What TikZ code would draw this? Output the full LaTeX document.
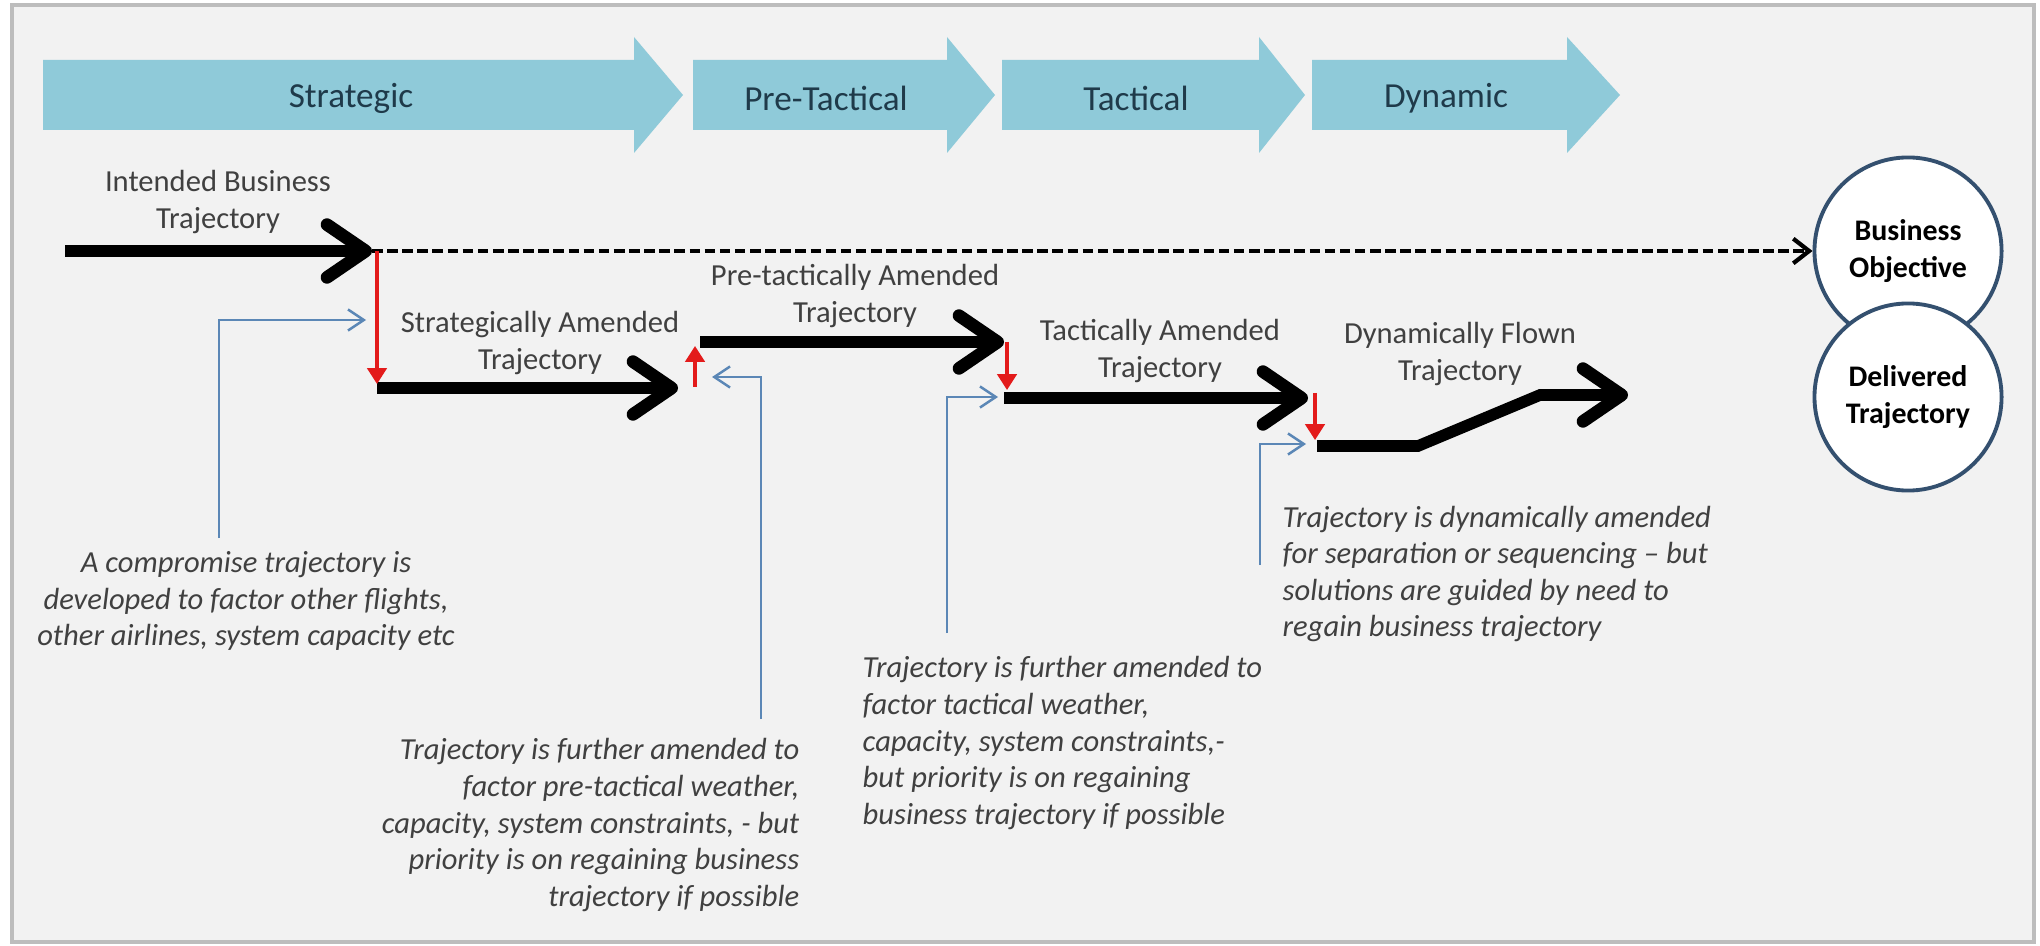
\documentclass[tikz,border=0pt]{standalone}
\usepackage{fontspec}
\setmainfont{Carlito}
\usetikzlibrary{arrows.meta}
\definecolor{phaseblue}{HTML}{8FCAD9}
\definecolor{phasetext}{HTML}{1F3A4A}
\definecolor{labelgray}{HTML}{404040}
\definecolor{amendred}{HTML}{E31B1B}
\definecolor{calloutblue}{HTML}{5B87B6}
\definecolor{goalblue}{HTML}{34506F}
\definecolor{panelgray}{HTML}{F2F2F2}
\definecolor{framegray}{HTML}{BDBDBD}

\begin{document}
\begin{tikzpicture}[x=0.01cm,y=-0.01cm]
        \tikzstyle{phase}=[fill=phaseblue,draw=none]
        \tikzstyle{phase label}=[text=phasetext,inner sep=0,font=\fontsize{10}{12}\selectfont]
        \tikzstyle{traj label}=[text=labelgray,align=center,inner sep=0,font=\fontsize{8.7}{10.4}\selectfont]
        \tikzstyle{note}=[text=labelgray,inner sep=0,font=\fontsize{8.7}{10.4}\selectfont\itshape]
        \tikzstyle{traj}=[line width=3.3pt,-{Straight Barb[length=11pt,width=15pt,line width=3.6pt,round]}]
        \tikzstyle{planned}=[line width=1.4pt,dash pattern=on 3pt off 1.3pt,-{Straight Barb[length=4.5pt,width=7pt,line width=1.2pt]}]
        \tikzstyle{amend}=[amendred,line width=0.9pt,-{Triangle[length=4.5pt,width=5.5pt]}]
        \tikzstyle{callout}=[calloutblue,line width=0.7pt,-{Straight Barb[length=4.5pt,width=6pt]}]
        \tikzstyle{goal}=[circle,draw=goalblue,line width=1.1pt,fill=white,minimum size=1.87cm,inner sep=0,align=center,font=\fontsize{8.5}{10.5}\selectfont\bfseries]

        \useasboundingbox (0,0) rectangle (2040,946);
        \fill[white] (0,0) rectangle (2040,946);
        \draw[framegray,line width=1.2pt,fill=panelgray] (12,5) rectangle (2034,942);

        % phases
        \fill[phase] (43,60) -- (634,60) -- (634,37) -- (683,95) -- (634,153) -- (634,130) -- (43,130) -- cycle;
        \fill[phase] (693,60) -- (947,60) -- (947,37) -- (995,95) -- (947,153) -- (947,130) -- (693,130) -- cycle;
        \fill[phase] (1002,60) -- (1259,60) -- (1259,37) -- (1305,95) -- (1259,153) -- (1259,130) -- (1002,130) -- cycle;
        \fill[phase] (1312,60) -- (1567,60) -- (1567,37) -- (1620,95) -- (1567,153) -- (1567,130) -- (1312,130) -- cycle;
        \node(strategic)[phase label] at (351,98) {Strategic};
        \node(pretactical)[phase label] at (826,98) {Pre-Tactical};
        \node(tactical)[phase label] at (1136,98) {Tactical};
        \node(dynamic)[phase label] at (1446,98) {Dynamic};

        % objective and outcome
        \node(bizobj)[goal] at (1908,251) {Business\\Objective};
        \node(delivered)[goal] at (1908,397) {Delivered\\Trajectory};

        % trajectory points
        \coordinate(ibt0) at (65,251);
        \coordinate(ibt1) at (372,251);
        \coordinate(sat0) at (377,388);
        \coordinate(sat1) at (678,388);
        \coordinate(pat0) at (700,342);
        \coordinate(pat1) at (1004,342);
        \coordinate(tat0) at (1004,398);
        \coordinate(tat1) at (1308,398);
        \coordinate(dft0) at (1317,446);
        \coordinate(dft1) at (1418,446);
        \coordinate(dft2) at (1540,395);
        \coordinate(dft3) at (1628,395);

        \draw[traj] (ibt0) -- (ibt1);
        \draw[planned] (ibt1) -- (bizobj);
        \draw[traj] (sat0) -- (sat1);
        \draw[traj] (pat0) -- (pat1);
        \draw[traj] (tat0) -- (tat1);
        \draw[traj] (dft0) -- (dft1) -- (dft2) -- (dft3);

        % amendments
        \coordinate(amd1a) at (377,251);
        \coordinate(amd1b) at (377,384);
        \coordinate(amd2a) at (695,387);
        \coordinate(amd2b) at (695,346);
        \coordinate(amd3a) at (1007,342);
        \coordinate(amd3b) at (1007,390);
        \coordinate(amd4a) at (1315,393);
        \coordinate(amd4b) at (1315,440);
        \draw[amend] (amd1a) -- (amd1b);
        \draw[amend] (amd2a) -- (amd2b);
        \draw[amend] (amd3a) -- (amd3b);
        \draw[amend] (amd4a) -- (amd4b);

        % labels
        \node(ibtlabel)[traj label] at (218,202) {Intended Business\\Trajectory};
        \node(satlabel)[traj label] at (540,343) {Strategically Amended\\Trajectory};
        \node(patlabel)[traj label] at (855,296) {Pre-tactically Amended\\Trajectory};
        \node(tatlabel)[traj label] at (1160,351) {Tactically Amended\\Trajectory};
        \node(dftlabel)[traj label] at (1460,354) {Dynamically Flown\\Trajectory};

        % notes
        \node(snote)[note,align=center] at (246,601) {A compromise trajectory is\\developed to factor other flights,\\other airlines, system capacity etc};
        \node(pnote)[note,align=right,anchor=east] at (800,825) {Trajectory is further amended to\\factor pre-tactical weather,\\capacity, system constraints, - but\\priority is on regaining business\\trajectory if possible};
        \node(tnote)[note,align=left,anchor=west] at (862,743) {Trajectory is further amended to\\factor tactical weather,\\capacity, system constraints,-\\but priority is on regaining\\business trajectory if possible};
        \node(dnote)[note,align=left,anchor=west] at (1282,574) {Trajectory is dynamically amended\\for separation or sequencing -- but\\solutions are guided by need to\\regain business trajectory};

        % callouts
        \coordinate(sc0) at (219,538);
        \coordinate(sc1) at (219,320);
        \coordinate(sc2) at (366,320);
        \coordinate(pc0) at (761,719);
        \coordinate(pc1) at (761,377);
        \coordinate(pc2) at (712,377);
        \coordinate(tc0) at (947,633);
        \coordinate(tc1) at (947,397);
        \coordinate(tc2) at (998,397);
        \coordinate(dc0) at (1260,565);
        \coordinate(dc1) at (1260,444);
        \coordinate(dc2) at (1306,444);
        \draw[callout] (sc0) -- (sc1) -- (sc2);
        \draw[callout] (pc0) -- (pc1) -- (pc2);
        \draw[callout] (tc0) -- (tc1) -- (tc2);
        \draw[callout] (dc0) -- (dc1) -- (dc2);
    \end{tikzpicture}
\end{document}
